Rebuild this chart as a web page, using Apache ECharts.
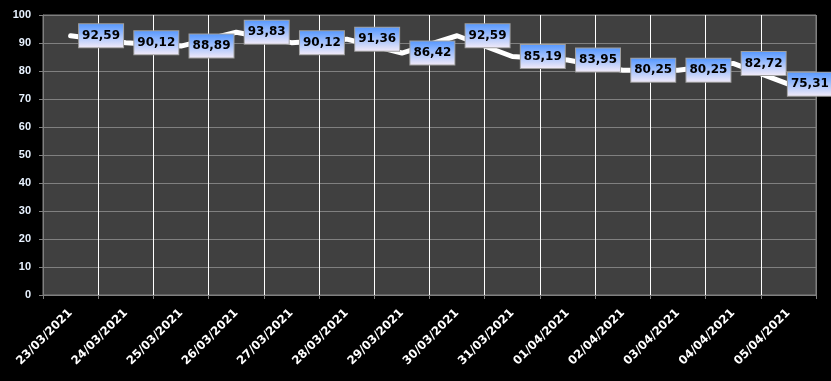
<!DOCTYPE html>
<html>
<head>
<meta charset="utf-8">
<script src="https://cdn.jsdelivr.net/npm/echarts@6/dist/echarts.min.js"></script>
<style>
html,body{margin:0;padding:0;background:#000;}
#c{width:831px;height:381px;}
</style>
</head>
<body>
<div id="c"></div>
<script>
var categories = ['23/03/2021','24/03/2021','25/03/2021','26/03/2021','27/03/2021','28/03/2021','29/03/2021','30/03/2021','31/03/2021','01/04/2021','02/04/2021','03/04/2021','04/04/2021','05/04/2021'];
var values = [92.59, 90.12, 88.89, 93.83, 90.12, 91.36, 86.42, 92.59, 85.19, 83.95, 80.25, 80.25, 82.72, 75.31];
var yTicks = [0, 10, 20, 30, 40, 50, 60, 70, 80, 90, 100];

var splitColors = [];
for (var i = 0; i <= categories.length; i++) {
  splitColors.push((i === 0 || i === categories.length) ? '#808080' : '#ffffff');
}

var seriesData = values.map(function (v, i) {
  var item = { value: v };
  if (i === values.length - 1) {
    item.label = { distance: -1 };
  }
  return item;
});

var chart = echarts.init(document.getElementById('c'));
chart.setOption({
  backgroundColor: '#000000',
  animation: false,
  grid: {
    left: 43, right: 15, top: 15, bottom: 86,
    show: true, backgroundColor: '#404040', borderColor: '#808080', borderWidth: 1
  },
  xAxis: {
    type: 'category',
    data: categories,
    boundaryGap: true,
    axisLine: { show: true, lineStyle: { color: '#808080', width: 1 } },
    axisTick: { show: true, length: 4, lineStyle: { color: '#808080' } },
    axisLabel: {
      rotate: 45, color: '#ffffff', fontFamily: 'DejaVu Sans', fontWeight: 'bold',
      fontSize: 11.7, margin: 16, interval: 0
    },
    splitLine: { show: true, lineStyle: { color: splitColors, width: 1 } }
  },
  yAxis: {
    type: 'value',
    min: yTicks[0], max: yTicks[yTicks.length - 1], interval: 10,
    axisLine: { show: true, lineStyle: { color: '#808080', width: 1 } },
    axisTick: { show: true, length: 4, lineStyle: { color: '#808080' } },
    axisLabel: {
      color: '#e8f2ff', fontFamily: 'Liberation Sans', fontWeight: 'bold', fontSize: 11, margin: 12
    },
    splitLine: { show: true, lineStyle: { color: '#808080', width: 1 } }
  },
  series: [{
    type: 'line',
    data: seriesData,
    symbol: 'circle',
    symbolSize: 1,
    showSymbol: true,
    itemStyle: { color: 'rgba(255,255,255,0)' },
    lineStyle: { color: '#ffffff', width: 5, cap: 'round', join: 'round' },
    label: {
      show: true,
      position: 'right',
      distance: 8,
      formatter: function (p) { return p.value.toFixed(2).replace('.', ','); },
      color: '#000000',
      fontFamily: 'DejaVu Sans',
      fontWeight: 'bold',
      fontSize: 12,
      lineHeight: 14,
      padding: [5, 3, 4, 3],
      borderColor: '#a0a0a0',
      borderWidth: 1,
      backgroundColor: new echarts.graphic.LinearGradient(0, 0, 0, 1, [
        { offset: 0, color: '#5296ff' },
        { offset: 1, color: '#f5ecf8' }
      ])
    }
  }]
});
</script>
</body>
</html>
